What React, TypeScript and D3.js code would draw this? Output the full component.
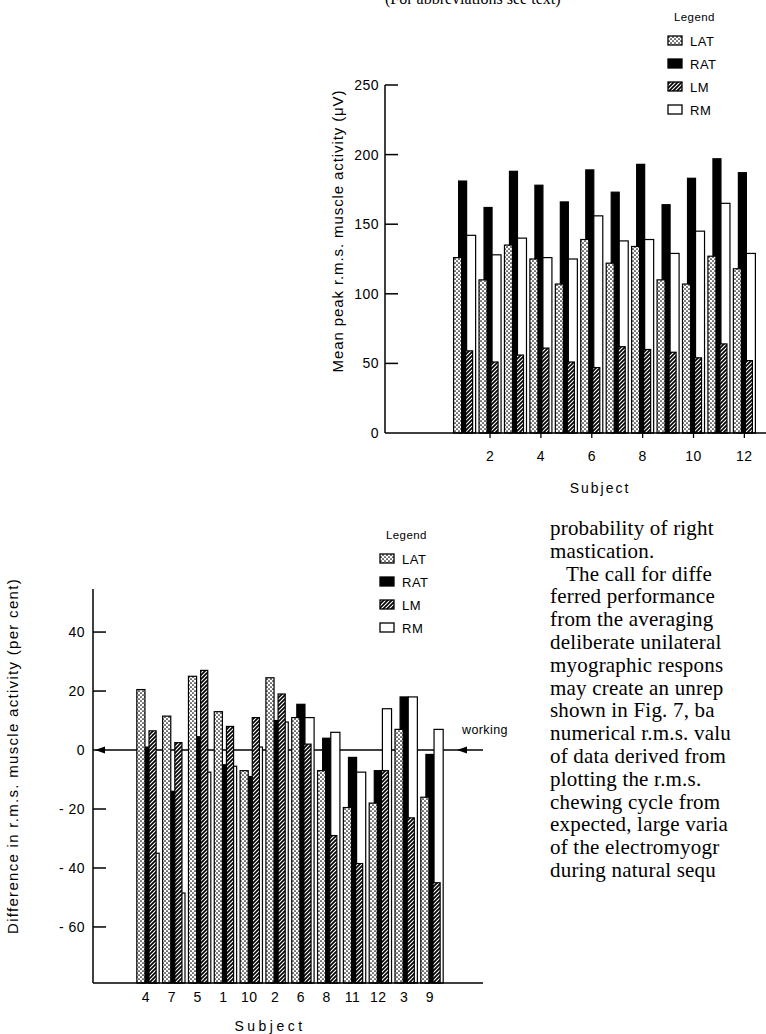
import React from 'react';
import * as d3 from 'd3';

// ---------- data: top chart (Mean peak r.m.s. muscle activity, µV) ----------
const topSubjects = [1, 2, 3, 4, 5, 6, 7, 8, 9, 10, 11, 12];
const topLAT = [126, 110, 135, 125, 107, 139, 122, 134, 110, 107, 127, 118];
const topRAT = [181, 162, 188, 178, 166, 189, 173, 193, 164, 183, 197, 187];
const topLM = [59, 51, 56, 61, 51, 47, 62, 60, 58, 54, 64, 52];
const topRM = [142, 128, 140, 126, 125, 156, 138, 139, 129, 145, 165, 129];
const topXTicks = [2, 4, 6, 8, 10, 12];
const topYTicks = [0, 50, 100, 150, 200, 250];

// ---------- data: bottom chart (Difference, per cent) ----------
const botSubjects = ['4', '7', '5', '1', '10', '2', '6', '8', '11', '12', '3', '9'];
const botLAT = [20.5, 11.5, 25, 13, -7, 24.5, 11, -7, -19.5, -18, 7, -16];
const botRAT = [1, -14, 4.5, -5, -9, 10, 15.5, 4, -2.5, -7, 18, -1.5];
const botLM = [6.5, 2.5, 27, 8, 11, 19, 2, -29, -38.5, -7, -23, -45];
const botRM = [-35, -48.5, -7.5, -5.5, 1, 9.5, 11, 6, -7.5, 14, 18, 7];
const botYTicks = [40, 20, 0, -20, -40, -60];
const botYLabels = ['40', '20', '0', '- 20', '- 40', '- 60'];

const legendNames = ['LAT', 'RAT', 'LM', 'RM'];

const bodyLines = [
  'probability of right',
  'mastication.',
  '   The call for diffe',
  'ferred performance',
  'from the averaging',
  'deliberate unilateral',
  'myographic respons',
  'may create an unrep',
  'shown in Fig. 7, ba',
  'numerical r.m.s. valu',
  'of data derived from',
  'plotting the r.m.s.',
  'chewing cycle from',
  'expected, large varia',
  'of the electromyogr',
  'during natural sequ',
];

const SANS = '"Liberation Sans", Arial, Helvetica, sans-serif';
const SERIF = '"Liberation Serif", "Times New Roman", serif';

// bar geometry per series: [left, right] offsets in subject units, fill
const seriesStyle: Record<string, { off: [number, number]; fill: string }> = {
  LAT: { off: [-0.433, -0.118], fill: 'url(#dots)' },
  RAT: { off: [-0.236, 0.079], fill: '#000' },
  LM: { off: [0.039, 0.315], fill: 'url(#hatch)' },
  RM: { off: [0.079, 0.433], fill: '#fff' },
};
const drawOrder = ['RAT', 'RM', 'LAT', 'LM'];

function Legend({ x, y }: { x: number; y: number }) {
  return (
    <g>
      <text x={x + 6} y={y} fontFamily={SANS} fontSize={11.5} letterSpacing={0.4}>Legend</text>
      {legendNames.map((n, i) => (
        <g key={n}>
          <rect x={x} y={y + 15 + i * 23} width={14} height={9} fill={seriesStyle[n].fill}
            stroke="#000" strokeWidth={1.3} />
          <text x={x + 22} y={y + 24.5 + i * 23} fontFamily={SANS} fontSize={13} letterSpacing={0.5}>{n}</text>
        </g>
      ))}
    </g>
  );
}

export default function App() {
  // ---------- top chart scales ----------
  const tx = d3.scaleLinear().domain([-2.13, 12.85]).range([385, 766]);
  const ty = d3.scaleLinear().domain([0, 250]).range([433, 85]);
  const topData: Record<string, number[]> = { LAT: topLAT, RAT: topRAT, LM: topLM, RM: topRM };

  // ---------- bottom chart scales ----------
  const bx = d3.scalePoint<string>().domain(botSubjects).range([148, 432]);
  const by = d3.scaleLinear().domain([-79, 54.6]).range([983, 589]);
  const unitBot = bx.step();
  const botData: Record<string, number[]> = { LAT: botLAT, RAT: botRAT, LM: botLM, RM: botRM };
  const y0 = by(0);

  return (
    <svg width={766} height={1034} style={{ position: 'absolute', left: 0, top: 0, background: '#fff' }}>
      <defs>
        <pattern id="dots" patternUnits="userSpaceOnUse" width={4} height={4}>
          <rect width={4} height={4} fill="#fff" />
          <circle cx={1} cy={1} r={0.85} fill="#000" />
          <circle cx={3} cy={3} r={0.85} fill="#000" />
        </pattern>
        <pattern id="hatch" patternUnits="userSpaceOnUse" width={4} height={4}>
          <rect width={4} height={4} fill="#fff" />
          <path d="M-1,1 l2,-2 M0,4 l4,-4 M3,5 l2,-2" stroke="#000" strokeWidth={1.7} />
        </pattern>
      </defs>

      {/* cut-off header line */}
      <text x={385} y={4} fontFamily={SERIF} fontSize={16}>(For abbreviations see text)</text>

      {/* ================= TOP CHART ================= */}
      <g>
        {drawOrder.map((name) => (
          <g key={name}>
            {topSubjects.map((s, i) => {
              const st = seriesStyle[name];
              const x0 = tx(s + st.off[0]);
              const x1 = tx(s + st.off[1]);
              const yv = ty(topData[name][i]);
              return (
                <rect key={s} x={x0} y={yv} width={x1 - x0} height={ty(0) - yv}
                  fill={st.fill} stroke="#000" strokeWidth={1.2} />
              );
            })}
          </g>
        ))}
        {/* axes */}
        <line x1={tx.range()[0]} x2={766} y1={ty(0)} y2={ty(0)} stroke="#000" strokeWidth={1.5} />
        <line x1={tx.range()[0]} x2={tx.range()[0]} y1={ty(0)} y2={ty(250)} stroke="#000" strokeWidth={1.5} />
        {topYTicks.map((t) => (
          <g key={t}>
            {t !== 0 && <line x1={385} x2={398} y1={ty(t)} y2={ty(t)} stroke="#000" strokeWidth={1.5} />}
            <text x={379} y={ty(t) + 5} textAnchor="end" fontFamily={SANS} fontSize={14} letterSpacing={0.5}>{t}</text>
          </g>
        ))}
        {topXTicks.map((t) => (
          <g key={t}>
            <line x1={tx(t)} x2={tx(t)} y1={ty(0)} y2={ty(0) + 5} stroke="#000" strokeWidth={1.3} />
            <text x={tx(t)} y={ty(0) + 28} textAnchor="middle" fontFamily={SANS} fontSize={14} letterSpacing={0.5}>{t}</text>
          </g>
        ))}
        <text x={600} y={493} textAnchor="middle" fontFamily={SANS} fontSize={14} letterSpacing={2}>Subject</text>
        <text transform={`translate(343, 231) rotate(-90)`} textAnchor="middle"
          fontFamily={SANS} fontSize={15} letterSpacing={0.9}>Mean peak r.m.s. muscle activity (μV)</text>
        <Legend x={668} y={21} />
      </g>

      {/* ================= BOTTOM CHART ================= */}
      <g>
        {/* zero ("working") reference line */}
        <line x1={93} x2={483} y1={y0} y2={y0} stroke="#000" strokeWidth={1.5} />
        {drawOrder.map((name) => (
          <g key={name}>
            {botSubjects.map((s, i) => {
              const st = seriesStyle[name];
              const c = bx(s)!;
              const x0 = c + st.off[0] * unitBot;
              const x1 = c + st.off[1] * unitBot;
              const yv = by(botData[name][i]);
              return (
                <rect key={s} x={x0} y={yv} width={x1 - x0} height={by(-79) - yv}
                  fill={st.fill} stroke="#000" strokeWidth={1.2} />
              );
            })}
          </g>
        ))}
        {/* arrows on working line */}
        <path d={`M95,${y0} l10,-3.5 l0,7 z`} fill="#000" />
        <path d={`M457,${y0} l10,-3.5 l0,7 z`} fill="#000" />
        <text x={462} y={734} fontFamily={SANS} fontSize={12.5} letterSpacing={0.4}>working</text>
        {/* axes */}
        <line x1={93} x2={93} y1={by(54.6)} y2={by(-79)} stroke="#000" strokeWidth={1.5} />
        <line x1={93} x2={483} y1={by(-79)} y2={by(-79)} stroke="#000" strokeWidth={1.5} />
        {botYTicks.map((t, i) => (
          <g key={t}>
            {t !== 0 && <line x1={93} x2={106} y1={by(t)} y2={by(t)} stroke="#000" strokeWidth={1.5} />}
            <text x={85} y={by(t) + 5} textAnchor="end" fontFamily={SANS} fontSize={14} letterSpacing={0.5}>{botYLabels[i]}</text>
          </g>
        ))}
        {botSubjects.map((s) => (
          <text key={s} x={bx(s)! - 2} y={1002} textAnchor="middle" fontFamily={SANS} fontSize={14} letterSpacing={0.5}>{s}</text>
        ))}
        <text x={270} y={1031} textAnchor="middle" fontFamily={SANS} fontSize={14} letterSpacing={3.5}>Subject</text>
        <text transform={`translate(18, 756) rotate(-90)`} textAnchor="middle" fontFamily={SANS} fontSize={15}
          letterSpacing={1.3}>
          Difference in r.m.s. muscle activity (per cent)
        </text>
        <Legend x={380} y={539} />
      </g>

      {/* ================= BODY TEXT ================= */}
      {bodyLines.map((l, i) => (
        <text key={i} x={550} y={535 + i * 22.8} fontFamily={SERIF} fontSize={21} letterSpacing={0.2}
          style={{ whiteSpace: 'pre' }}>{l}</text>
      ))}
    </svg>
  );
}
